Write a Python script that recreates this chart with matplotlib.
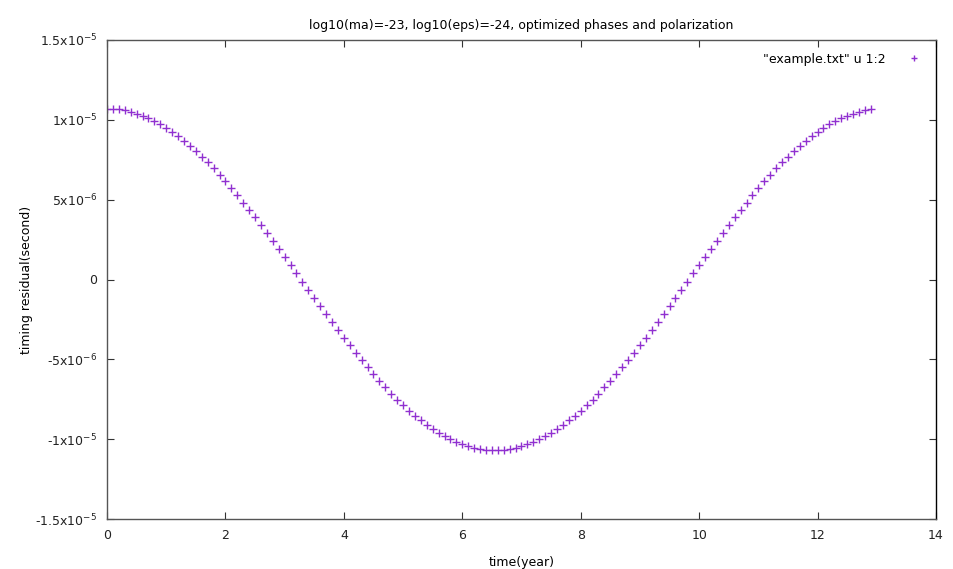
import matplotlib
matplotlib.use("Agg")
import matplotlib.pyplot as plt

# time (year) and timing residual (in units of 1e-6 s)
t = [0.0, 0.1, 0.2, 0.3, 0.4, 0.5, 0.6, 0.7, 0.8, 0.9,
     1.0, 1.1, 1.2, 1.3, 1.4, 1.5, 1.6, 1.7, 1.8, 1.9,
     2.0, 2.1, 2.2, 2.3, 2.4, 2.5, 2.6, 2.7, 2.8, 2.9,
     3.0, 3.1, 3.2, 3.3, 3.4, 3.5, 3.6, 3.7, 3.8, 3.9,
     4.0, 4.1, 4.2, 4.3, 4.4, 4.5, 4.6, 4.7, 4.8, 4.9,
     5.0, 5.1, 5.2, 5.3, 5.4, 5.5, 5.6, 5.7, 5.8, 5.9,
     6.0, 6.1, 6.2, 6.3, 6.4, 6.5, 6.6, 6.7, 6.8, 6.9,
     7.0, 7.1, 7.2, 7.3, 7.4, 7.5, 7.6, 7.7, 7.8, 7.9,
     8.0, 8.1, 8.2, 8.3, 8.4, 8.5, 8.6, 8.7, 8.8, 8.9,
     9.0, 9.1, 9.2, 9.3, 9.4, 9.5, 9.6, 9.7, 9.8, 9.9,
     10.0, 10.1, 10.2, 10.3, 10.4, 10.5, 10.6, 10.7, 10.8, 10.9,
     11.0, 11.1, 11.2, 11.3, 11.4, 11.5, 11.6, 11.7, 11.8, 11.9,
     12.0, 12.1, 12.2, 12.3, 12.4, 12.5, 12.6, 12.7, 12.8, 12.9]
resid_us = [10.70, 10.69, 10.65, 10.59, 10.50, 10.39, 10.26, 10.10, 9.92, 9.72,
            9.49, 9.24, 8.98, 8.69, 8.38, 8.05, 7.70, 7.34, 6.96, 6.56,
            6.14, 5.72, 5.28, 4.82, 4.36, 3.89, 3.40, 2.91, 2.42, 1.92,
            1.41, 0.90, 0.38, -0.13, -0.64, -1.15, -1.66, -2.17, -2.66, -3.16,
            -3.65, -4.12, -4.59, -5.05, -5.50, -5.93, -6.35, -6.76, -7.15, -7.52,
            -7.88, -8.21, -8.53, -8.83, -9.11, -9.37, -9.61, -9.82, -10.01, -10.18,
            -10.33, -10.45, -10.55, -10.62, -10.67, -10.70, -10.70, -10.67, -10.62, -10.55,
            -10.45, -10.33, -10.18, -10.01, -9.82, -9.61, -9.37, -9.11, -8.83, -8.53,
            -8.21, -7.88, -7.52, -7.15, -6.76, -6.35, -5.93, -5.50, -5.05, -4.59,
            -4.12, -3.65, -3.16, -2.66, -2.17, -1.66, -1.15, -0.64, -0.13, 0.38,
            0.90, 1.41, 1.92, 2.42, 2.91, 3.40, 3.89, 4.36, 4.82, 5.28,
            5.72, 6.14, 6.56, 6.96, 7.34, 7.70, 8.05, 8.38, 8.69, 8.98,
            9.24, 9.49, 9.72, 9.92, 10.10, 10.26, 10.39, 10.50, 10.59, 10.65]

xticks = [0, 2, 4, 6, 8, 10, 12, 14]
yticks = [1.5e-5, 1e-5, 5e-6, 0, -5e-6, -1e-5, -1.5e-5]
ytick_labels = [r'1.5x10$^{-5}$', r'1x10$^{-5}$', r'5x10$^{-6}$', '0',
                r'-5x10$^{-6}$', r'-1x10$^{-5}$', r'-1.5x10$^{-5}$']

plt.rcParams['font.family'] = 'DejaVu Sans'
plt.rcParams['mathtext.default'] = 'regular'
plt.rcParams['axes.unicode_minus'] = False

fig = plt.figure(figsize=(9.54, 5.69), dpi=100)
ax = fig.add_axes([107 / 954, 1 - 519 / 569, (936 - 107) / 954, (519 - 40) / 569])

y = [v * 1e-6 for v in resid_us]
ax.plot(t, y, linestyle='none', marker='+', markersize=5.5, markeredgewidth=1.0,
        color='#9030d0', label='"example.txt" u 1:2')

ax.set_xlim(0, 14)
ax.set_ylim(-1.5e-5, 1.5e-5)
ax.set_xticks(xticks)
ax.set_yticks(yticks)
ax.set_yticklabels(ytick_labels)
ax.tick_params(direction='in', top=True, right=True, length=5, width=0.8,
               labelsize=9, colors='#333333', labelcolor='#222222', pad=7)
for sp in ax.spines.values():
    sp.set_color('#555555')
    sp.set_linewidth(1.0)
ax.spines['right'].set_color('black')

ax.set_title('log10(ma)=-23, log10(eps)=-24, optimized phases and polarization',
             fontsize=9, pad=8)
ax.set_xlabel('time(year)', fontsize=9, labelpad=10)
ax.set_ylabel('timing residual(second)', fontsize=9, labelpad=2)

leg = ax.legend(loc='upper right', frameon=False, fontsize=9, markerfirst=False,
                handlelength=1.5, handletextpad=1.5, borderaxespad=0.6)
leg.legend_handles[0].set_markersize(4)

fig.savefig('out.png', dpi=100)
